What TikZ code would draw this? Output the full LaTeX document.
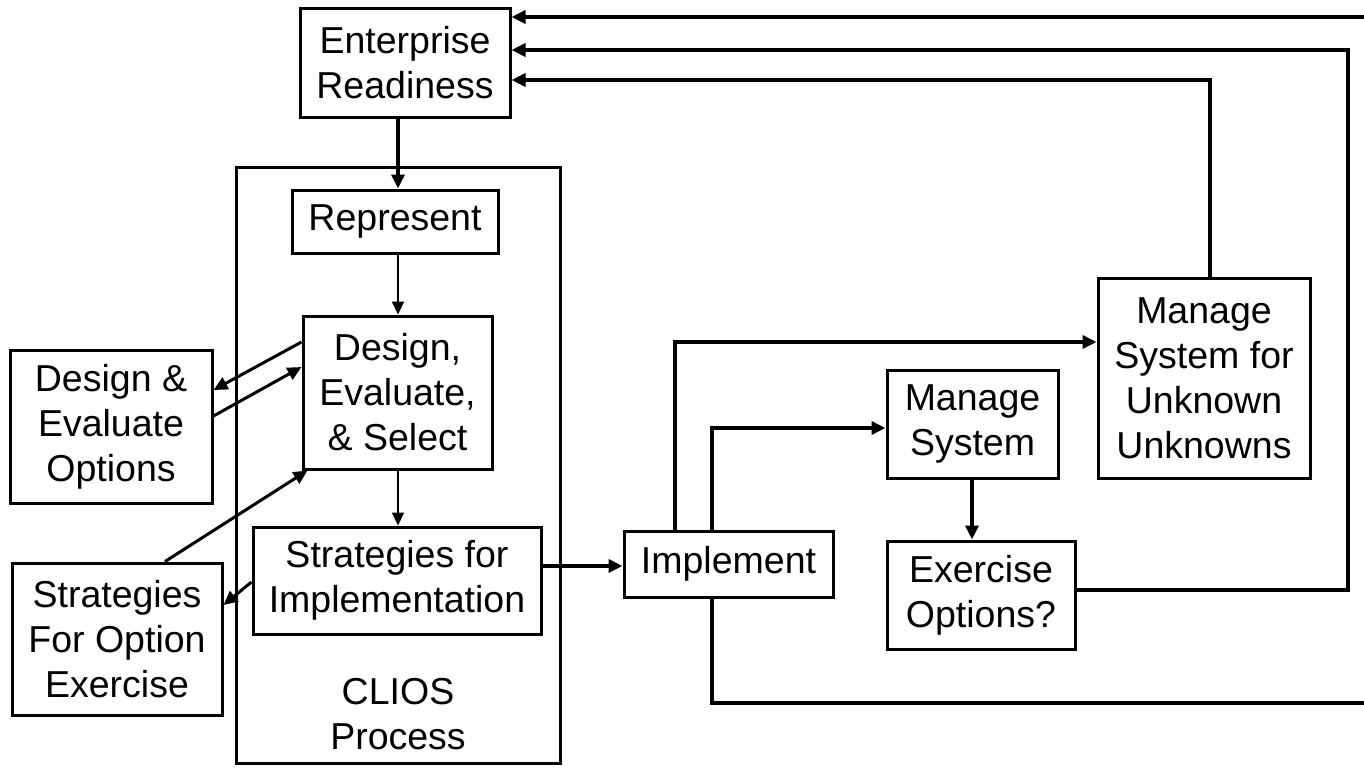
\documentclass[tikz,border=0pt]{standalone}
\usepackage{fontspec}
\setmainfont{Liberation Sans}
\usetikzlibrary{arrows.meta}
\begin{document}
\begin{tikzpicture}[x=1pt,y=-1pt,
  box/.style={draw,line width=3pt,rectangle,inner sep=0pt,align=center,
    font=\fontsize{37.5}{45}\selectfont},
  link/.style={line width=3.5pt,-{Triangle[length=14pt,width=13pt]}},
  thin link/.style={line width=2.2pt,-{Triangle[length=13pt,width=12pt]}}]
\useasboundingbox (0,0) rectangle (1364,768);
\fill[white] (0,0) rectangle (1364,768);

% outer frame of the CLIOS process
\node[box,minimum width=324pt,minimum height=596pt] (clios) at (398,465) {};
\node[font=\fontsize{37.5}{45}\selectfont,align=center] (cliosl) at (398,714) {CLIOS\\Process};

\node[box,minimum width=210pt,minimum height=108pt] (er) at (405,63) {Enterprise\\Readiness};
\node[box,minimum width=206pt,minimum height=63pt] (rep) at (395,221.5) {Represent};
\node[box,minimum width=189pt,minimum height=153pt] (des) at (397.5,392.5) {Design,\\Evaluate,\\\& Select};
\node[box,minimum width=202pt,minimum height=153pt] (deo) at (111,426.5) {Design \&\\Evaluate\\Options};
\node[box,minimum width=210pt,minimum height=152pt] (sfoe) at (117,639) {Strategies\\For Option\\Exercise};
\node[box,minimum width=288pt,minimum height=107pt] (sfi) at (397,580.5) {Strategies for\\Implementation};
\node[box,minimum width=209pt,minimum height=66pt] (impl) at (728.5,564) {Implement};
\node[box,minimum width=171pt,minimum height=108pt] (ms) at (972.5,424) {Manage\\System};
\node[box,minimum width=188pt,minimum height=108pt] (eo) at (981,595) {Exercise\\Options?};
\node[box,minimum width=212pt,minimum height=200pt] (msuu) at (1204,378) {Manage\\System for\\Unknown\\Unknowns};

% main chain
\draw[link,line width=4pt] (er.south -| 398,0) -- (rep.north -| 398,0);
\draw[thin link] (rep.south -| 398,0) -- (des.north -| 398,0);
\draw[thin link] (des.south -| 398,0) -- (sfi.north -| 398,0);
\draw[link] (sfi.east |- 0,566) -- (impl.west |- 0,566);

% side exchanges
\draw[link,line width=3pt] ([yshift=50.5pt]des.west) -- ([yshift=36.5pt]deo.east);
\draw[link,line width=3pt] ([yshift=10.5pt]deo.east) -- ([yshift=25.5pt]des.west);
\draw[link,line width=3pt] ([xshift=48pt]sfoe.north) -- ([xshift=6pt]des.south west);
\draw[link,line width=3pt] ([yshift=-1.5pt]sfi.west) -- ([yshift=34pt]sfoe.east);

% from implementation to management
\draw[link] ([xshift=-53.5pt]impl.north) |- ([yshift=36pt]msuu.west);
\draw[link] ([xshift=-16.5pt]impl.north) |- ([yshift=-4pt]ms.west);
\draw[link] (ms.south -| 972,0) -- (eo.north -| 972,0);

% feedback to enterprise readiness
\draw[link] ([xshift=6pt]msuu.north) |- ([yshift=-17pt]er.east);
\draw[link] ([yshift=5pt]eo.east) -| (1348,50) -- ([yshift=13pt]er.east);
\draw[link] ([xshift=-16.5pt]impl.south) |- (1380,703) |- ([yshift=46pt]er.east);
\end{tikzpicture}
\end{document}
